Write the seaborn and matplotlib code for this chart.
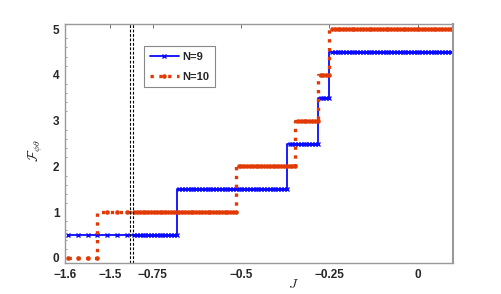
import numpy as np
import pandas as pd
import matplotlib
matplotlib.use("Agg")
import matplotlib.pyplot as plt
import seaborn as sns
from matplotlib.ticker import MultipleLocator

# ---- data ----
# sampling grid of J (left part before the axis break, right part after it)
J_left = [-1.593, -1.5713, -1.5497, -1.528, -1.5063, -1.4847, -1.463]
J_right_start, J_right_stop, J_right_step = -0.803, 0.1, 0.008
# step thresholds in J and the plateau levels
n9_jumps = [-0.679, -0.369, -0.279, -0.248]
n9_levels = [0.5, 1.5, 2.5, 3.5, 4.5]
n10_jumps = [-1.52, -0.509, -0.341, -0.281, -0.250]
n10_levels = [0, 1, 2, 3, 4, 5]
xtick_vals = [-1.6, -1.5, -0.75, -0.5, -0.25, 0]
xtick_labels = ["\u22121.6", "\u22121.5", "\u22120.75", "\u22120.5", "\u22120.25", "0"]
ytick_vals = [0, 1, 2, 3, 4, 5]
break_left, break_right = -1.455, -0.805

J = np.concatenate([J_left, np.arange(J_right_start, J_right_stop, J_right_step)])
F9 = np.array(n9_levels)[np.searchsorted(n9_jumps, J, side="right")]
F10 = np.array(n10_levels)[np.searchsorted(n10_jumps, J, side="right")]
df = pd.DataFrame({"J": np.concatenate([J, J]),
                   "F": np.concatenate([F9, F10]),
                   "N": ["N=9"] * len(J) + ["N=10"] * len(J)})

# ---- broken x axis as a piecewise-linear scale ----
k = 1.278
P_L = break_right - 0.0085

def fwd(x):
    x = np.asarray(x, float)
    mid = P_L + (x - break_left) * (break_right - P_L) / (break_right - break_left)
    return np.where(x < break_left, P_L + (x - break_left) * k,
                    np.where(x > break_right, x, mid))

def inv(p):
    p = np.asarray(p, float)
    mid = break_left + (p - P_L) * (break_right - break_left) / (break_right - P_L)
    return np.where(p < P_L, break_left + (p - P_L) / k,
                    np.where(p > break_right, p, mid))

sns.set_style("white")
plt.rcParams["font.family"] = ["Liberation Sans", "DejaVu Sans"]
plt.rcParams["mathtext.fontset"] = "cm"

fig = plt.figure(figsize=(5.01, 2.94), dpi=100)
ax = fig.add_axes([65 / 501, 31 / 294, 388 / 501, 239 / 294])
ax.set_xscale("function", functions=(fwd, inv))

blue = "#0a0aff"
red = "#e23a05"
d9 = df[df.N == "N=9"]
d10 = df[df.N == "N=10"]
sns.lineplot(data=d9, x="J", y="F", ax=ax, color=blue, lw=1.3,
             drawstyle="steps-pre", estimator=None, sort=False, legend=False)
sns.lineplot(data=d10, x="J", y="F", ax=ax, color=red, lw=2.4,
             drawstyle="steps-pre", estimator=None, sort=False, legend=False)
l9, l10 = ax.lines[0], ax.lines[1]
l9.set(marker="x", markersize=3, markeredgewidth=1.0, markeredgecolor=blue,
       markerfacecolor=blue, linestyle="-", label="N=9")
l10.set(marker="o", markersize=3.3, markeredgewidth=0, markerfacecolor=red,
        markeredgecolor=red, linestyle=":", label="N=10")

ax.axvline(break_left, color="black", ls="--", lw=0.8, dashes=(2.5, 1.5))
ax.axvline(break_right, color="black", ls="--", lw=0.8, dashes=(2.5, 1.5))

ax.set_xlim(-1.6, 0.1)
ax.set_ylim(-0.11, 5.11)
ax.set_xticks(xtick_vals)
ax.set_xticklabels(xtick_labels)
ax.set_yticks(ytick_vals)
ax.yaxis.set_minor_locator(MultipleLocator(0.2))
for lab in ax.get_xticklabels() + ax.get_yticklabels():
    lab.set_fontweight("bold")
    lab.set_fontsize(8.5)
ax.tick_params(axis="both", which="major", direction="in", length=3, width=0.6,
               color="#555555", top=True, right=False, pad=4)
ax.tick_params(axis="y", which="minor", direction="in", length=1.5, width=0.5,
               color="#777777", left=True)
for s in ax.spines.values():
    s.set_color("#999999")
    s.set_linewidth(1.0)
ax.spines["right"].set_linewidth(1.5)

ax.set_xlabel("$J$", fontsize=10)
ax.set_ylabel(r"$\mathcal{F}_{\phi\theta}$", fontsize=10)
ax.xaxis.set_label_coords(0.588, -0.058)
ax.yaxis.set_label_coords(-0.052, 0.47)

leg = ax.legend(handles=[l9, l10], loc="upper left", bbox_to_anchor=(0.19, 0.93),
                frameon=True, fancybox=False, framealpha=1, edgecolor="#888888",
                prop={"weight": "bold", "size": 8}, handlelength=2.6,
                borderpad=0.5, labelspacing=0.9, handletextpad=0.3)
leg.get_frame().set_linewidth(0.8)

fig.savefig("out.png", dpi=100)
